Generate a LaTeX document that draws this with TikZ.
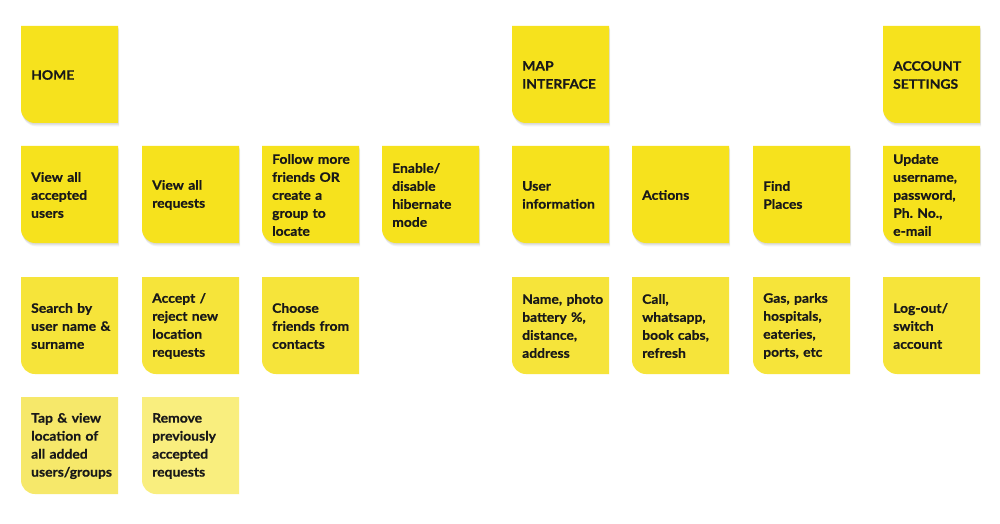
\documentclass[tikz,border=0pt]{standalone}
\usepackage{fontspec}
\setmainfont{Lato}[BoldFeatures={FakeStretch=1.07, FakeBold=0.6}]
\usetikzlibrary{positioning}

\definecolor{noteyellow}{HTML}{F6E21D}
\definecolor{notepale}{HTML}{F6E43A}
\definecolor{notelight}{HTML}{F6E86A}
\definecolor{notefaint}{HTML}{F9EE7E}

\tikzset{
    notetext/.style={anchor=west, text width=90pt, align=left, inner sep=0pt,
        font=\bfseries\fontsize{13}{18}\selectfont, text=black!90},
    noteshadow/.style={fill=black},
}

\begin{document}
\begin{tikzpicture}[x=1pt, y=1pt]
    % Canvas
    \fill [white] (0, 0) rectangle (1000, 523);
    \useasboundingbox (0, 0) rectangle (1000, 523);

    % Sticky notes: name / left / bottom / colour / shadow / text
    \foreach \nm/\nx/\ny/\col/\shd/\txt in {
        home/21/400/noteyellow/0.05/{HOME},
        map/512/400/noteyellow/0.05/{MAP\\INTERFACE},
        account/883/400/noteyellow/0.05/{ACCOUNT\\SETTINGS},
        users/21/280/noteyellow/0.05/{View all\\accepted\\users},
        requests/142/280/noteyellow/0.05/{View all\\requests},
        follow/262/280/noteyellow/0.05/{Follow more\\friends OR\\create a\\group to\\locate},
        hibernate/382/280/noteyellow/0.05/{Enable/\\disable\\hibernate\\mode},
        info/512/280/noteyellow/0.05/{User\\information},
        actions/632/280/noteyellow/0.05/{Actions},
        find/753/280/noteyellow/0.05/{Find\\Places},
        update/883/280/noteyellow/0.05/{Update\\username,\\password,\\Ph.\ No.,\\e-mail},
        search/21/149/notepale/0/{Search by\\user name \&\\surname},
        accept/142/149/notepale/0/{Accept /\\reject new\\location\\requests},
        choose/262/149/notepale/0/{Choose\\friends from\\contacts},
        details/512/149/notepale/0/{Name, photo\\battery \%,\\distance,\\address},
        call/632/149/notepale/0/{Call,\\whatsapp,\\book cabs,\\refresh},
        places/753/149/notepale/0/{Gas, parks\\hospitals,\\eateries,\\ports, etc},
        logout/883/149/notepale/0/{Log-out/\\switch\\account},
        tap/21/29/notelight/0/{Tap \& view\\location of\\all added\\users/groups},
        remove/142/29/notefaint/0/{Remove\\previously\\accepted\\requests}%
    }{
        % soft shadow
        \foreach \s in {1, 2, 3}
            \fill [noteshadow, opacity=\shd, shift={(0.4*\s, -1.1*\s)}]
                (\nx+14, \ny) -- (\nx+97, \ny) -- (\nx+97, \ny+97) -- (\nx, \ny+97)
                -- (\nx, \ny+14) arc [start angle=180, end angle=270, radius=14pt] -- cycle;
        % paper
        \fill [\col] (\nx+14, \ny) -- (\nx+97, \ny) -- (\nx+97, \ny+97) -- (\nx, \ny+97)
            -- (\nx, \ny+14) arc [start angle=180, end angle=270, radius=14pt] -- cycle;
        % label
        \node [notetext] (\nm) at (\nx+10, \ny+48) {\txt};
    }
\end{tikzpicture}
\end{document}
